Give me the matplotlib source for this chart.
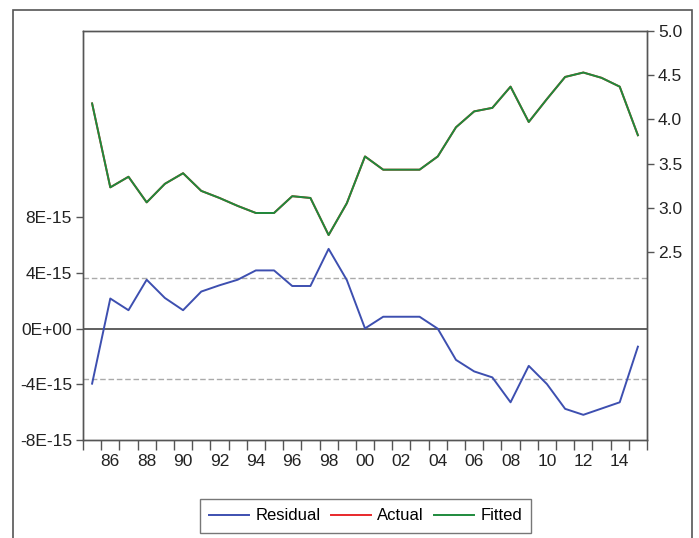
import numpy as np
import matplotlib.pyplot as plt
from matplotlib.patches import Rectangle

plt.rcParams['font.family'] = ['Liberation Sans', 'DejaVu Sans']

years = np.arange(1985, 2016)

# residuals in units of 1e-15
residual = [-3.95, 2.17, 1.33, 3.52, 2.21, 1.33, 2.67, 3.12, 3.52, 4.19,
            4.19, 3.07, 3.07, 5.74, 3.5, 0.02, 0.86, 0.86, 0.86, 0.0,
            -2.24, -3.07, -3.5, -5.29, -2.67, -3.98, -5.76, -6.19, -5.74, -5.29,
            -1.29]

fitted = [4.18, 3.23, 3.35, 3.06, 3.27, 3.39, 3.19, 3.11, 3.02, 2.94,
          2.94, 3.13, 3.11, 2.69, 3.05, 3.58, 3.43, 3.43, 3.43, 3.58,
          3.91, 4.09, 4.13, 4.37, 3.97, 4.23, 4.48, 4.53, 4.47, 4.37,
          3.82]

resid = np.array(residual) * 1e-15
actual = np.array(fitted) + resid
sd = 3.64e-15

left_ticks = [-8e-15, -4e-15, 0, 4e-15, 8e-15]
left_labels = ['-8E-15', '-4E-15', '0E+00', '4E-15', '8E-15']
right_ticks = [2.5, 3.0, 3.5, 4.0, 4.5, 5.0]

W, H = 699, 538
fig = plt.figure(figsize=(W / 100, H / 100), dpi=100)

# outer frame
fig.patches.append(Rectangle((13 / W, -0.05), (692 - 13) / W, 1.05 - 10 / H,
                             transform=fig.transFigure, fill=False,
                             edgecolor='#555555', linewidth=1.2))

ax = fig.add_axes([83 / W, 1 - 440 / H, (647 - 83) / W, (440 - 31) / H])
ax2 = ax.twinx()

spine_col = '#555555'
for a in (ax, ax2):
    for s in a.spines.values():
        s.set_color(spine_col)
        s.set_linewidth(1.0)

ax.axhline(0, color='#444444', linewidth=1.2, zorder=1)
ax.axhline(sd, color='#aaaaaa', linewidth=1.0, linestyle=(0, (4, 2)), zorder=1)
ax.axhline(-sd, color='#aaaaaa', linewidth=1.0, linestyle=(0, (4, 2)), zorder=1)
l1, = ax.plot(years, resid, color='#3d4fb0', linewidth=1.4, label='Residual')
l2, = ax2.plot(years, actual, color='#e8282b', linewidth=1.4, label='Actual')
l3, = ax2.plot(years, fitted, color='#1e8a3c', linewidth=1.4, label='Fitted')

ax.set_xlim(1984.5, 2015.5)
ax.set_ylim(-8e-15, 21.4e-15)
ax.set_yticks(left_ticks)
ax.set_yticklabels(left_labels)
ax2.set_ylim(0.37, 5.0)
ax2.set_yticks(right_ticks)
ax2.set_yticklabels(['%.1f' % v for v in right_ticks])

even = years[(years % 2) == 0]
ax.set_xticks(even)
ax.set_xticklabels(['%02d' % (y % 100) for y in even])
ax.set_xticks(np.arange(1984.5, 2016, 1.0), minor=True)
ax.tick_params(axis='x', which='major', length=0, pad=10, labelsize=12.5, labelcolor='#222222')
ax.tick_params(axis='x', which='minor', length=7, width=1.0, color=spine_col, direction='out')
ax.tick_params(axis='y', length=5, width=1.0, color=spine_col, labelsize=12.5, pad=3, labelcolor='#222222')
ax2.tick_params(axis='y', length=5, width=1.0, color=spine_col, labelsize=12.5, pad=3, labelcolor='#222222')

leg = fig.legend(handles=[l1, l2, l3], loc='center', bbox_to_anchor=(365.5 / W, 1 - 516 / H),
                 ncol=3, fontsize=12, frameon=True, fancybox=False,
                 handlelength=2.4, columnspacing=0.6, handletextpad=0.4,
                 borderpad=0.55, borderaxespad=0)
leg.get_frame().set_edgecolor('#555555')
leg.get_frame().set_linewidth(1.0)

fig.savefig('out.png', dpi=100)
